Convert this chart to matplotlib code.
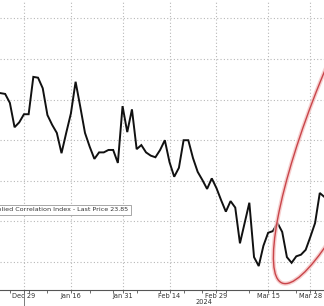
import numpy as np
import pandas as pd
import matplotlib
matplotlib.use("Agg")
import matplotlib.pyplot as plt
from matplotlib.patches import Ellipse
import matplotlib.transforms as mtransforms

plt.rcParams["font.family"] = ["Liberation Sans Narrow", "DejaVu Sans"]

# ── data (trading days, Dec 21 2023 .. Apr 3 2024) ─────────────
holidays = ["2023-12-25", "2024-01-01", "2024-01-15", "2024-02-19", "2024-03-29"]
dates = [d for d in pd.bdate_range("2023-12-21", "2024-04-03") if d.strftime("%Y-%m-%d") not in holidays]

corr = [35.8, 35.7, 34.6, 31.6, 32.2, 33.2, 33.2, 37.8, 37.7, 36.4,
        33.1, 31.9, 30.9, 28.4, 30.9, 33.3, 37.2, 34.1, 30.9, 29.2,
        27.7, 28.5, 28.5, 28.8, 28.8, 27.2, 34.2, 31.0, 33.8, 28.9,
        29.4, 28.5, 28.1, 27.9, 28.8, 30.0, 27.3, 25.5, 26.6, 30.0,
        30.0, 27.8, 26.1, 25.1, 24.0, 25.3, 24.1, 22.6, 21.2, 22.5,
        21.7, 17.3, 19.8, 22.3, 15.6, 14.5, 17.0, 18.6, 18.8, 19.8,
        18.7, 15.6, 14.9, 15.7, 15.9, 16.5, 18.1, 19.8, 23.5, 23.0]

tick_dates = ["2023-12-29", "2024-01-16", "2024-01-31", "2024-02-14",
              "2024-02-29", "2024-03-15", "2024-03-28"]
tick_labels = ["Dec 29", "Jan 16", "Jan 31", "Feb 14", "Feb 29", "Mar 15", "Mar 28"]
legend_text = "S&P 500 3 Month Implied Correlation Index - Last Price 23.85"

pos = {d.strftime("%Y-%m-%d"): i for i, d in enumerate(dates)}
x = np.arange(len(dates))
major = [pos[d] for d in tick_dates]
minor = [i for i, d in enumerate(dates) if i > 0 and (d - dates[i-1]).days > 1]

# ── figure ───────────────────────────────────────────
W, H = 324, 306
fig = plt.figure(figsize=(W/100, H/100), dpi=100)
ax = fig.add_axes([0, 16/H, 1, 290/H])
ax.plot(x, corr, color="#111111", lw=1.4, solid_joinstyle="miter", zorder=3)
ax.set_xlim(-0.1, 68.9)
ax.set_ylim(11.55, 47.27)
ax.set_yticks(np.arange(15, 46, 5))
ax.set_xticks(major)
ax.set_xticklabels(tick_labels, fontsize=4.8, color="#333333")
ax.set_xticks(minor, minor=True)
ax.tick_params(axis="x", which="both", direction="out", length=1.8, width=0.6,
               color="#555555", pad=0.6)
ax.tick_params(axis="y", left=False, labelleft=False)
ax.grid(True, color="#b8b8b8", lw=0.8, ls=(0, (1, 2)))
for s in ("top", "right", "left"):
    ax.spines[s].set_visible(False)
ax.spines["bottom"].set_color("#555555")
ax.spines["bottom"].set_linewidth(0.8)

# year divider + year label
trans = mtransforms.blended_transform_factory(ax.transData, ax.transAxes)
ax.plot([pos["2023-12-29"] + 0.1] * 2, [0, -16/290], transform=trans,
        color="#666666", lw=0.6, clip_on=False)
ax.text(pos["2024-02-29"] - 2.7, -12.3/290, "2024", transform=trans,
        fontsize=4.8, color="#333333", ha="center", va="center")

# legend box (cut off at the left edge)
ax.text(128/W, 1 - 210/290, legend_text, transform=ax.transAxes,
        fontsize=4.6, color="#333333", ha="right", va="center", zorder=5,
        bbox=dict(boxstyle="square,pad=0.45", fc="white", ec="#999999", lw=0.6))

# red annotation loop, in pixel space
ov = fig.add_axes([0, 0, 1, 1])
ov.set_xlim(0, W); ov.set_ylim(0, H); ov.axis("off"); ov.patch.set_alpha(0)
ov.add_patch(Ellipse((357, H - 97.6), 400, 80, angle=68, fill=False,
                     ec="#f4c4c4", lw=3.0, alpha=0.8))
ov.add_patch(Ellipse((357, H - 97.6), 400, 80, angle=68, fill=False,
                     ec="#c9454a", lw=1.0))

fig.savefig("out.png", dpi=100)
